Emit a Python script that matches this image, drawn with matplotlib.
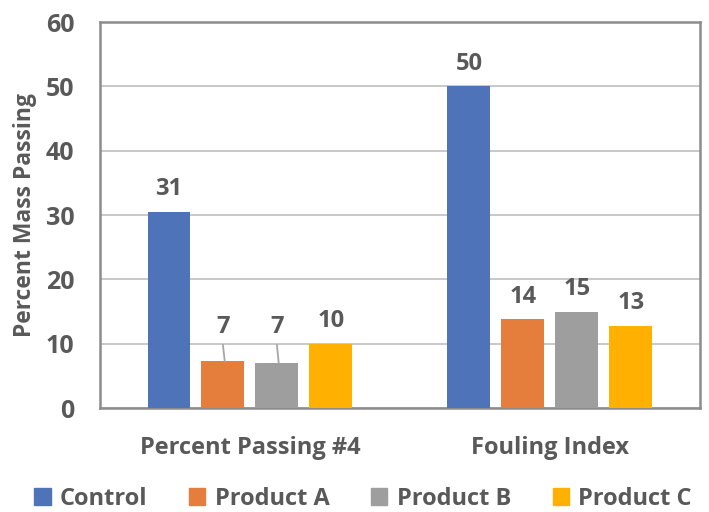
import numpy as np
import matplotlib.pyplot as plt
from matplotlib.patches import Patch

categories = ['Percent Passing #4', 'Fouling Index']
series = ['Control', 'Product A', 'Product B', 'Product C']
values = {
    'Control': [30.5, 50.0],
    'Product A': [7.3, 13.8],
    'Product B': [7.0, 14.9],
    'Product C': [10.0, 12.8],
}
labels = {
    'Control': ['31', '50'],
    'Product A': ['7', '14'],
    'Product B': ['7', '15'],
    'Product C': ['10', '13'],
}
colors = ['#4f73b8', '#e57d3c', '#9e9e9e', '#ffb000']

txt = '#595959'
plt.rcParams['font.family'] = ['Open Sans', 'DejaVu Sans']
plt.rcParams['font.weight'] = 'bold'

fig = plt.figure(figsize=(7.09, 5.12), dpi=100)
ax = fig.add_axes([0.141, 0.203, 0.846, 0.754])

x = np.arange(len(categories))
w = 0.143
step = 0.18
for i, s in enumerate(series):
    pos = x + (i - 1.5) * step
    ax.bar(pos, values[s], width=w, color=colors[i], zorder=3)
    for j, (p, v) in enumerate(zip(pos, values[s])):
        if j == 0 and s in ('Product A', 'Product B'):
            # label pulled up with a leader line
            ax.plot([p, p + 0.006], [9.8, v], color='#a6a6a6', lw=1.3, zorder=4)
            ax.text(p, 11.7, labels[s][j], ha='center', va='baseline',
                    fontsize=17, fontweight='bold', color=txt)
        else:
            ax.text(p, v + 2.6, labels[s][j], ha='center', va='baseline',
                    fontsize=17, fontweight='bold', color=txt)

ax.set_xlim(-0.5, 1.5)
ax.set_ylim(0, 60)
ax.set_yticks(range(0, 61, 10))
ax.set_xticks(x)
ax.set_xticklabels(categories, fontsize=17, fontweight='bold', color=txt)
ax.tick_params(axis='x', length=0, pad=20)
ax.tick_params(axis='y', length=0, pad=18.5, labelsize=18, labelcolor=txt)
for lab in ax.get_yticklabels():
    lab.set_fontweight('bold')
ax.yaxis.grid(True, color='#bfbfbf', lw=1.2, zorder=0)
for sp in ax.spines.values():
    sp.set_color('#8c8c8c')
    sp.set_linewidth(1.8)
ax.set_ylabel('Percent Mass Passing', fontsize=16.5, fontweight='bold', color=txt, labelpad=6)

handles = [Patch(color=c, label=s) for s, c in zip(series, colors)]
fig.legend(handles=handles, loc='center', bbox_to_anchor=(0.512, 0.026), ncol=4,
           frameon=False, handlelength=0.7, handleheight=0.7, handletextpad=0.4,
           columnspacing=1.75, prop={'size': 17, 'weight': 'bold'}, labelcolor=txt)

fig.savefig('out.png', dpi=100)
